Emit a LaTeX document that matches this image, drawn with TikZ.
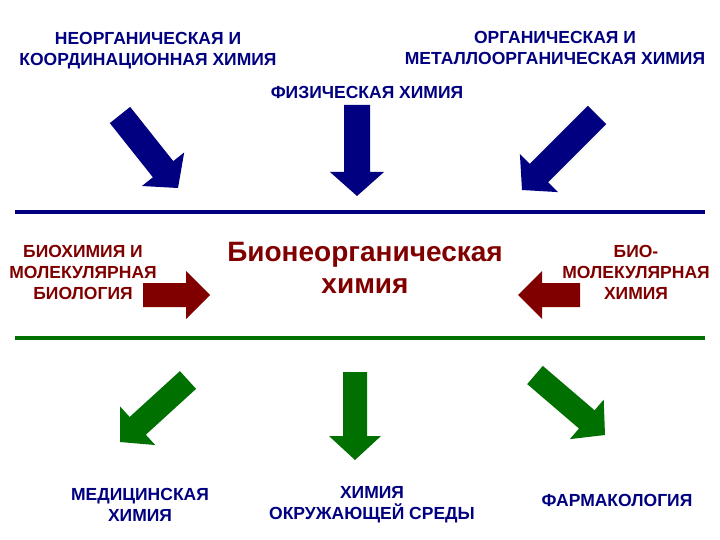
\documentclass[tikz,border=0pt]{standalone}
\usepackage{fontspec}
\setmainfont{Liberation Sans}
\usetikzlibrary{calc}
\definecolor{navyc}{RGB}{0,0,128}
\definecolor{redc}{RGB}{128,0,0}
\definecolor{greenc}{RGB}{0,112,0}
\newcommand{\barrow}[5]{% color, tail, tip, shaftwidth/2, headwidth/2
\coordinate (Hb) at ($#3!24pt!#2$);
\fill[#1] ($#2!#4!90:#3$) -- ($(Hb)!#4!-90:#2$) -- ($(Hb)!#5!-90:#2$) -- #3
 -- ($(Hb)!#5!90:#2$) -- ($(Hb)!#4!90:#2$) -- ($#2!#4!-90:#3$) -- cycle;}
\tikzset{lbl/.style={font=\bfseries\fontsize{17.5}{21}\selectfont,align=center,inner sep=0pt},
 hline/.style={line width=4.5pt}}
\begin{document}
\begin{tikzpicture}[x=1pt,y=-1pt]
\useasboundingbox (0,0) rectangle (720,540);
\node[lbl,text=navyc] (t1) at (148,51) {НЕОРГАНИЧЕСКАЯ И\\КООРДИНАЦИОННАЯ ХИМИЯ};
\node[lbl,text=navyc] (t2) at (555,48) {ОРГАНИЧЕСКАЯ И\\МЕТАЛЛООРГАНИЧЕСКАЯ ХИМИЯ};
\node[lbl,text=navyc] (t3) at (367,92) {ФИЗИЧЕСКАЯ ХИМИЯ};
\coordinate (a1s) at (120,115); \coordinate (a1e) at (178,188);
\coordinate (a2s) at (357,105); \coordinate (a2e) at (357,196);
\coordinate (a3s) at (597,115); \coordinate (a3e) at (522,190);
\barrow{navyc}{(a1s)}{(a1e)}{13pt}{27pt}
\barrow{navyc}{(a2s)}{(a2e)}{13pt}{27pt}
\barrow{navyc}{(a3s)}{(a3e)}{13pt}{27pt}
\coordinate (l1a) at (15,212); \coordinate (l1b) at (705,212);
\draw[hline,navyc] (l1a) -- (l1b);
\node[lbl,text=redc] (b1) at (83,272) {БИОХИМИЯ И\\МОЛЕКУЛЯРНАЯ\\БИОЛОГИЯ};
\node[lbl,text=redc,font=\bfseries\fontsize{28}{32}\selectfont] (main) at (365,268) {Бионеорганическая\\химия};
\node[lbl,text=redc] (b3) at (636,272) {БИО-\\МОЛЕКУЛЯРНАЯ\\ХИМИЯ};
\coordinate (r1s) at (143,295); \coordinate (r1e) at (210,295);
\coordinate (r2s) at (580,295); \coordinate (r2e) at (518,295);
\barrow{redc}{(r1s)}{(r1e)}{12pt}{24pt}
\barrow{redc}{(r2s)}{(r2e)}{12pt}{24pt}
\coordinate (l2a) at (15,338); \coordinate (l2b) at (705,338);
\draw[hline,greenc] (l2a) -- (l2b);
\coordinate (g1s) at (188,380); \coordinate (g1e) at (120,442);
\coordinate (g2s) at (355,372); \coordinate (g2e) at (355,460);
\coordinate (g3s) at (535,375); \coordinate (g3e) at (605,435);
\barrow{greenc}{(g1s)}{(g1e)}{12pt}{26pt}
\barrow{greenc}{(g2s)}{(g2e)}{12pt}{26pt}
\barrow{greenc}{(g3s)}{(g3e)}{12pt}{26pt}
\node[lbl,text=navyc] (c1) at (140,505) {МЕДИЦИНСКАЯ\\ХИМИЯ};
\node[lbl,text=navyc] (c2) at (372,505) {ХИМИЯ\\ОКРУЖАЮЩЕЙ СРЕДЫ};
\node[lbl,text=navyc] (c3) at (617,500) {ФАРМАКОЛОГИЯ};
\end{tikzpicture}
\end{document}
